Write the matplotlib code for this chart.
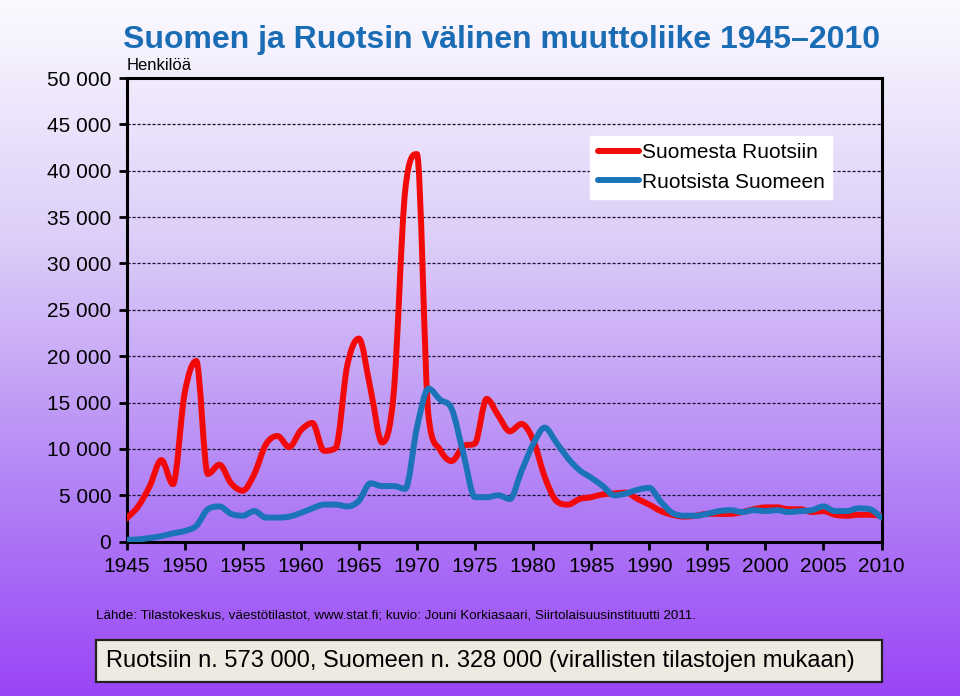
import matplotlib.pyplot as plt
import numpy as np
from matplotlib.colors import LinearSegmentedColormap
from matplotlib.path import Path
from matplotlib.patches import PathPatch, Rectangle
from matplotlib.lines import Line2D
from matplotlib import font_manager

years = np.arange(1945, 2011)

# Suomesta Ruotsiin (Finland -> Sweden)
to_sweden = [2500, 3800, 6000, 8800, 6200, 16000, 19500, 7300, 8300, 6300,
             5500, 7300, 10500, 11400, 10200, 12000, 12800, 9800, 10100, 19000,
             21900, 16500, 10700, 16000, 38000, 41800, 13500, 9900, 8700, 10300,
             10600, 15400, 13600, 11900, 12700, 11000, 7000, 4400, 4000, 4600,
             4800, 5100, 5200, 5300, 4600, 4000, 3300, 2900, 2700, 2800,
             3000, 3000, 3000, 3200, 3500, 3700, 3700, 3500, 3500, 3200,
             3300, 2900, 2800, 2900, 2900, 2800]

# Ruotsista Suomeen (Sweden -> Finland)
to_finland = [200, 250, 400, 600, 900, 1150, 1700, 3500, 3800, 3000,
              2800, 3300, 2600, 2600, 2700, 3100, 3600, 4000, 4000, 3800,
              4400, 6300, 6000, 6000, 5700, 12300, 16500, 15300, 14300, 9500,
              4800, 4800, 5000, 4600, 7600, 10500, 12300, 10700, 9000, 7700,
              6900, 6000, 5000, 5200, 5600, 5800, 4300, 3100, 2800, 2800,
              3000, 3300, 3400, 3200, 3400, 3300, 3400, 3200, 3300, 3400,
              3800, 3300, 3300, 3600, 3500, 2600]

series_names = ['Suomesta Ruotsiin', 'Ruotsista Suomeen']
series_colors = ['#f20a0a', '#1b73b8']

y_ticks = np.arange(0, 50001, 5000)
y_labels = ['0' if v == 0 else f'{v // 1000} 000' for v in y_ticks]
x_ticks = np.arange(1945, 2011, 5)

plt.rcParams['font.family'] = ['Liberation Sans', 'DejaVu Sans']

installed = {f.name for f in font_manager.fontManager.ttflist}
if 'Liberation Sans Narrow' in installed:
    narrow = dict(family=['Liberation Sans Narrow', 'DejaVu Sans'])
    src_size, box_size = 11, 19
else:
    narrow = dict(family=['Liberation Sans', 'DejaVu Sans'])
    src_size, box_size = 9.6, 17


def smooth_path(x, y):
    # smoothed line: cubic Bezier through every point, tangents limited
    # so peaks stay at the data values
    x = np.asarray(x, float)
    y = np.asarray(y, float)
    h = np.diff(x)
    d = np.diff(y) / h
    n = len(y)
    m = np.zeros(n)
    m[0], m[-1] = d[0], d[-1]
    for i in range(1, n - 1):
        if d[i - 1] * d[i] <= 0:
            m[i] = 0.0
        else:
            t = (d[i - 1] + d[i]) / 2
            lim = 3 * min(abs(d[i - 1]), abs(d[i]))
            m[i] = np.sign(t) * min(abs(t), lim)
    verts = [(x[0], y[0])]
    codes = [Path.MOVETO]
    for i in range(n - 1):
        verts += [(x[i] + h[i] / 3, y[i] + m[i] * h[i] / 3),
                  (x[i + 1] - h[i] / 3, y[i + 1] - m[i + 1] * h[i] / 3),
                  (x[i + 1], y[i + 1])]
        codes += [Path.CURVE4] * 3
    return Path(verts, codes)


fig = plt.figure(figsize=(9.6, 6.96), dpi=100)

# gradient background
bg = fig.add_axes([0, 0, 1, 1], zorder=-10)
cmap = LinearSegmentedColormap.from_list(
    'bg', [(0.0, '#9a45f7'), (0.3, '#b283f5'), (0.65, '#dccdf8'), (1.0, '#fbfaff')])
bg.imshow(np.linspace(0, 1, 256).reshape(-1, 1), aspect='auto', cmap=cmap,
          origin='lower', extent=[0, 1, 0, 1])
bg.set_axis_off()

ax = fig.add_axes([0.1318, 0.2217, 0.7865, 0.6662])
ax.patch.set_alpha(0)

for vals, col, z in zip([to_sweden, to_finland], series_colors, [3, 4]):
    ax.add_patch(PathPatch(smooth_path(years, vals), facecolor='none', edgecolor=col,
                           lw=4.3, joinstyle='round', capstyle='round', zorder=z))

ax.set_xlim(1945, 2010)
ax.set_ylim(0, 50000)
ax.set_yticks(y_ticks)
ax.set_yticklabels(y_labels, fontsize=15)
ax.set_xticks(x_ticks)
ax.set_xticklabels([str(x) for x in x_ticks], fontsize=15)
ax.tick_params(axis='both', direction='out', length=6, width=2, colors='black', pad=5)
for s in ax.spines.values():
    s.set_linewidth(2.2)
    s.set_color('black')

for v in y_ticks[1:-1]:
    ax.axhline(v, color='#1a1030', lw=0.9, ls=(0, (2.5, 1.5)), zorder=1)

ax.text(0.0, 1.01, 'Henkilöä', transform=ax.transAxes, fontsize=12,
        ha='left', va='bottom')

handles = [Line2D([], [], color=c, lw=4.3, solid_capstyle='round') for c in series_colors]
leg = ax.legend(handles, series_names, loc='upper right', bbox_to_anchor=(0.935, 0.875),
                fontsize=15, frameon=True, fancybox=False, handlelength=2.0,
                handletextpad=0.15, borderpad=0.35, labelspacing=0.5, borderaxespad=0)
leg.get_frame().set_facecolor('white')
leg.get_frame().set_edgecolor('white')
leg.get_frame().set_alpha(1)

fig.text(0.522, 0.942, 'Suomen ja Ruotsin välinen muuttoliike 1945\u20132010',
         ha='center', va='center', fontsize=23, fontweight='bold', color='#1a6db5')

fig.text(0.1, 0.115,
         'Lähde: Tilastokeskus, väestötilastot, www.stat.fi; kuvio: Jouni Korkiasaari, Siirtolaisuusinstituutti 2011.',
         ha='left', va='center', fontsize=src_size, **narrow)

fig.add_artist(Rectangle((96 / 960, 1 - 682 / 696), 786 / 960, 42 / 696,
                         transform=fig.transFigure, facecolor='#eeeae2',
                         edgecolor='#222222', lw=1.6))
fig.text(0.5, 1 - 661 / 696,
         'Ruotsiin n. 573 000, Suomeen n. 328 000 (virallisten tilastojen mukaan)',
         ha='center', va='center', fontsize=box_size, **narrow)

fig.savefig('out.png', dpi=100)
